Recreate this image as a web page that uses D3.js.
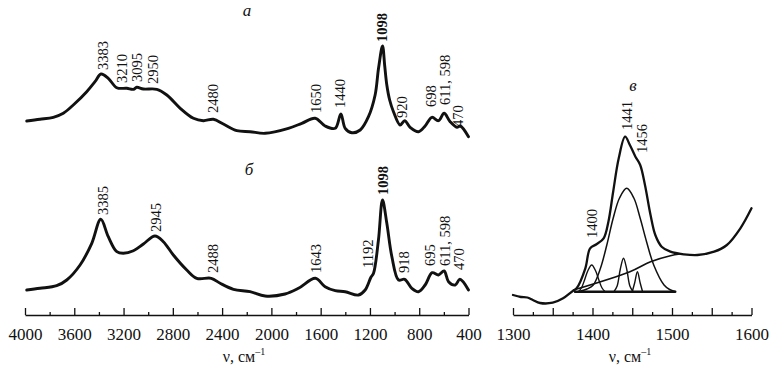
<!DOCTYPE html>
<html>
<head>
<meta charset="utf-8">
<script src="https://d3js.org/d3.v7.min.js"></script>
<style>
  html, body { margin: 0; padding: 0; background: #fff; }
  svg { display: block; font-family: "Liberation Serif", "Times New Roman", serif; }
</style>
</head>
<body>
<script>
// spectrum a, [wavenumber cm-1, intensity a.u.]
var specA = [[3986,0.19],[3878,0.207],[3770,0.227],[3689,0.267],[3608,0.35],[3499,0.483],[3432,0.583],
  [3383,0.66],[3324,0.617],[3255,0.523],[3174,0.517],[3120,0.507],[3093,0.527],[3039,0.51],[2930,0.507],
  [2849,0.45],[2740,0.317],[2633,0.217],[2552,0.193],[2471,0.207],[2390,0.16],[2281,0.093],[2173,0.083],
  [2051,0.067],[1862,0.117],[1753,0.167],[1645,0.217],[1564,0.14],[1482,0.117],[1436,0.26],[1401,0.117],
  [1347,0.073],[1279,0.10],[1212,0.233],[1158,0.45],[1130,0.72],[1098,0.94],[1080,0.74],[1063,0.55],
  [1040,0.40],[1009,0.283],[955,0.15],[918,0.193],[874,0.127],[806,0.083],[752,0.14],[697,0.227],
  [644,0.193],[598,0.267],[549,0.183],[494,0.127],[467,0.14],[400,0.033]];

// spectrum б
var specB = [[3986,0.07],[3878,0.087],[3743,0.113],[3661,0.17],[3553,0.32],[3458,0.537],[3385,0.777],
  [3324,0.603],[3255,0.453],[3202,0.437],[3120,0.463],[3039,0.53],[2945,0.61],[2877,0.553],[2796,0.42],
  [2687,0.27],[2606,0.187],[2488,0.187],[2416,0.137],[2308,0.077],[2173,0.053],[2051,0.01],[1889,0.03],
  [1780,0.087],[1643,0.187],[1564,0.103],[1482,0.063],[1401,0.053],[1293,0.02],[1239,0.07],[1192,0.197],
  [1171,0.237],[1131,0.57],[1098,0.97],[1063,0.737],[1022,0.403],[968,0.17],[918,0.177],[860,0.087],
  [806,0.053],[752,0.12],[695,0.243],[644,0.22],[598,0.26],[562,0.153],[508,0.12],[470,0.177],[400,0.07]];

// spectrum в (1300-1600) and its decomposition
var specC = [[1300,0.10],[1310,0.08],[1318,0.075],[1325,0.05],[1334,0.02],[1350,0.023],[1363,0.067],
  [1374,0.133],[1380,0.167],[1391,0.367],[1397,0.567],[1405,0.607],[1414,0.667],[1420,0.833],[1426,1.133],
  [1433,1.467],[1441,1.683],[1447,1.60],[1454,1.483],[1460,1.40],[1466,1.20],[1473,0.90],[1479,0.70],
  [1487,0.583],[1498,0.533],[1515,0.507],[1532,0.50],[1553,0.533],[1569,0.60],[1586,0.767],[1600,0.967]];
var backgroundC = [[1376,0.15],[1447,0.333],[1473,0.433],[1498,0.493],[1510,0.51]];
var zeroC = [[1378,0.133],[1504,0.133]];
var band1443 = [[1385,0.14],[1393,0.16],[1401,0.20],[1410,0.367],[1418,0.60],[1426,0.867],[1434,1.07],
  [1443,1.167],[1452,1.07],[1460,0.867],[1468,0.633],[1477,0.40],[1490,0.20],[1497,0.155],[1504,0.135]];
var band1400 = [[1382,0.133],[1386,0.17],[1390,0.25],[1394,0.34],[1399,0.40],[1404,0.34],[1408,0.25],
  [1412,0.17],[1416,0.133]];
var band1441 = [[1427,0.133],[1431,0.19],[1435,0.36],[1439,0.467],[1443,0.36],[1447,0.19],[1451,0.133]];
var band1456 = [[1450,0.133],[1453,0.22],[1456.5,0.333],[1460,0.22],[1463,0.133]];

// peak labels: text, wavenumber where it stands, intensity where it starts
var peaksA = [["3383",3367,0.70],["3210",3215,0.57],["3095",3093,0.58],["2950",2960,0.56],["2480",2473,0.27],
  ["1650",1635,0.27],["1440",1440,0.32],["1098",1101,0.98],["920",938,0.22],["698",703,0.33],
  ["611, 598",589,0.35],["470",484,0.13]];
var peaksB = [["3385",3367,0.82],["2945",2935,0.65],["2488",2473,0.24],["1643",1635,0.24],["1192",1214,0.29],
  ["1098",1093,1.02],["918",922,0.24],["695",711,0.31],["611, 598",589,0.31],["470",475,0.27]];
var peaksC = [["1441",1443.5,1.75],["1456",1462.5,1.52],["1400",1399.5,0.67]];

var ticksLeft = [4000,3600,3200,2800,2400,2000,1600,1200,800,400];
var ticksRight = [1300,1400,1500,1600];

var svg = d3.select("body").append("svg").attr("width", 773).attr("height", 374);

var xL = d3.scaleLinear().domain([4000, 400]).range([25, 468.5]);
var xR = d3.scaleLinear().domain([1300, 1600]).range([513, 751.5]);
var yA = d3.scaleLinear().domain([0, 1]).range([140, 40]);
var yB = d3.scaleLinear().domain([0, 1]).range([297, 197]);
var yC = d3.scaleLinear().domain([0, 1]).range([305, 205]);

function curve(data, x, y, w) {
    var line = d3.line()
        .x(function(d) { return x(d[0]); })
        .y(function(d) { return y(d[1]); })
        .curve(d3.curveCatmullRom.alpha(0.5));
    svg.append("path")
        .datum(data)
        .attr("d", line)
        .attr("fill", "none")
        .attr("stroke", "#111")
        .attr("stroke-width", w)
        .attr("stroke-linejoin", "round")
        .attr("stroke-linecap", "round");
}

function peakLabels(list, x, y) {
    svg.append("g").selectAll("text")
        .data(list)
        .enter()
        .append("text")
        .attr("transform", function(d) { return "translate(" + x(d[1]) + "," + y(d[2]) + ") rotate(-90)"; })
        .attr("dy", "0.33em")
        .attr("font-size", 14.5)
        .attr("font-weight", function(d) { return d[0] == "1098" ? "bold" : "normal"; })
        .attr("fill", "#111")
        .text(function(d) { return d[0]; });
}

function axis(x, y0, minors, majors, labelled) {
    var gMinor = svg.append("g").attr("transform", "translate(0," + y0 + ")")
        .call(d3.axisBottom(x).tickValues(minors).tickSize(-3).tickSizeOuter(0).tickFormat(""));
    gMinor.select(".domain").remove();
    var g = svg.append("g").attr("transform", "translate(0," + y0 + ")")
        .call(d3.axisBottom(x).tickValues(majors).tickSize(-7).tickSizeOuter(0).tickPadding(13)
            .tickFormat(function(d) { return labelled.indexOf(d) >= 0 ? d : ""; }));
    svg.selectAll(".tick line").attr("stroke", "#111").attr("stroke-width", 1.3);
    g.select(".domain").attr("stroke", "#111").attr("stroke-width", 1.5);
    g.selectAll("text").attr("font-family", "Liberation Serif").attr("font-size", 17).attr("fill", "#111");
}

function axisTitle(cx) {
    var t = svg.append("text").attr("x", cx).attr("y", 362).attr("text-anchor", "middle")
        .attr("font-size", 16).attr("fill", "#111");
    t.append("tspan").text("ν, см");
    t.append("tspan").attr("dy", -7).attr("font-size", 10).text("–1");
}

function panelLetter(txt, x, y) {
    svg.append("text").attr("x", x).attr("y", y).attr("text-anchor", "middle")
        .attr("font-size", 17).attr("font-style", "italic").attr("fill", "#111").text(txt);
}

// left panel
curve(specA, xL, yA, 2.9);
curve(specB, xL, yB, 2.9);
peakLabels(peaksA, xL, yA);
peakLabels(peaksB, xL, yB);
panelLetter("а", 247, 16);
panelLetter("б", 249, 175);
axis(xL, 315, d3.range(3800, 400, -400), ticksLeft, ticksLeft);
axisTitle(244);

// right panel
curve(specC, xR, yC, 2.3);
curve(backgroundC, xR, yC, 1.6);
curve(band1443, xR, yC, 1.5);
curve(band1400, xR, yC, 1.4);
curve(band1441, xR, yC, 1.4);
curve(band1456, xR, yC, 1.4);
curve(zeroC, xR, yC, 2.6);
peakLabels(peaksC, xR, yC);
panelLetter("в", 633, 91);
axis(xR, 315, d3.range(1325, 1600, 50), d3.range(1300, 1601, 50), ticksRight);
axisTitle(630);
</script>
</body>
</html>
